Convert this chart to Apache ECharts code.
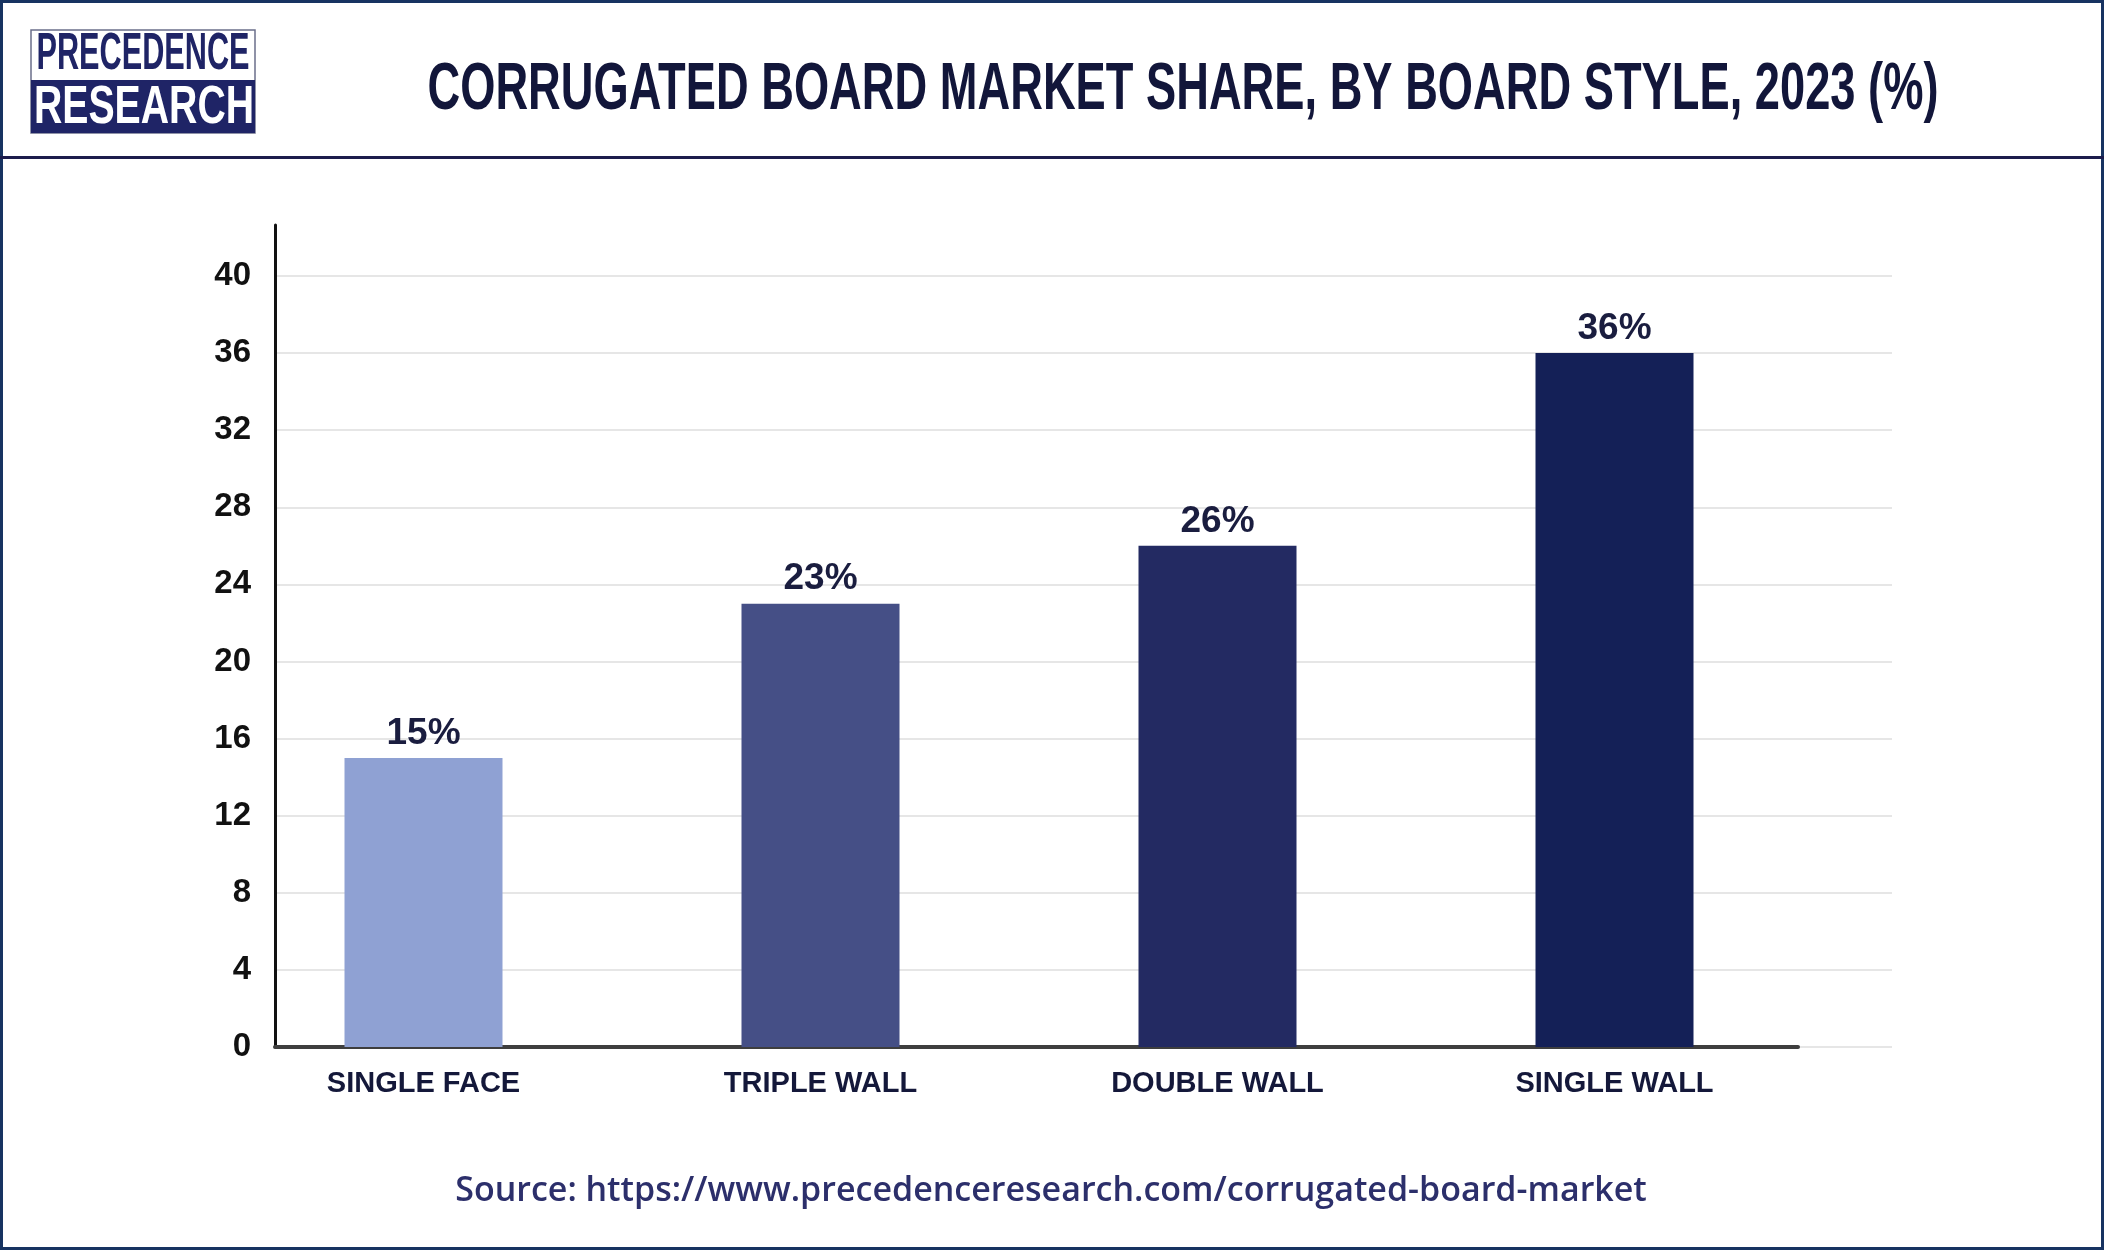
<!DOCTYPE html>
<html>
<head>
<meta charset="utf-8">
<script src="https://cdn.jsdelivr.net/npm/echarts@6/dist/echarts.min.js"></script>
<style>
html,body{margin:0;padding:0;background:#fff;}
#chart{width:2104px;height:1250px;}
</style>
</head>
<body>
<div id="chart"></div>
<script>
// ---- data ----
const categories = ['SINGLE FACE', 'TRIPLE WALL', 'DOUBLE WALL', 'SINGLE WALL'];
const shares = [15, 23, 26, 36];
const barColors = ['#8fa1d3', '#454f86', '#232a62', '#142057'];
const titleText = 'CORRUGATED BOARD MARKET SHARE, BY BOARD STYLE, 2023 (%)';
const sourceText = 'Source: https://www.precedenceresearch.com/corrugated-board-market';

const sans = '"Liberation Sans", Arial, sans-serif';
const chart = echarts.init(document.getElementById('chart'), null, {renderer: 'canvas'});

const option = {
  backgroundColor: '#ffffff',
  animation: false,
  grid: [
    {left: 275, top: 276, width: 1617, height: 771},   // gridlines + y labels
    {left: 225, top: 276, width: 1588, height: 771},   // bars
    {left: 275, top: 225, width: 1523, height: 822}    // axis lines
  ],
  xAxis: [
    {gridIndex: 0, type: 'value', show: false, min: 0, max: 1},
    {gridIndex: 1, type: 'category', data: categories,
      axisLine: {show: false}, axisTick: {show: false},
      axisLabel: {margin: 22, fontFamily: sans, fontWeight: 'bold', fontSize: 29, color: '#14183a'}},
    {gridIndex: 2, type: 'value', min: 0, max: 1,
      axisLine: {show: true, onZero: false, lineStyle: {color: '#3e3e3e', width: 4}},
      axisTick: {show: false}, axisLabel: {show: false}, splitLine: {show: false}}
  ],
  yAxis: [
    {gridIndex: 0, type: 'value', min: 0, max: 40, interval: 4,
      axisLine: {show: false}, axisTick: {show: false},
      axisLabel: {margin: 24, fontFamily: sans, fontWeight: 'bold', fontSize: 33, color: '#111111'},
      splitLine: {show: true, lineStyle: {color: '#e6e6e6', width: 2}}},
    {gridIndex: 1, type: 'value', min: 0, max: 40, show: false},
    {gridIndex: 2, type: 'value', min: 0, max: 1,
      axisLine: {show: true, onZero: false, lineStyle: {color: '#111111', width: 3}},
      axisTick: {show: false}, axisLabel: {show: false}, splitLine: {show: false}}
  ],
  series: [{
    type: 'bar',
    xAxisIndex: 1, yAxisIndex: 1,
    barWidth: 158,
    data: shares.map((v, i) => ({value: v, itemStyle: {color: barColors[i]}})),
    label: {
      show: true, position: 'top', distance: 6,
      formatter: p => p.value + '%',
      fontFamily: sans, fontWeight: 'bold', fontSize: 37, color: '#1a1d3f'
    },
    z: 5
  }],
  graphic: [
    // outer frame
    {type: 'rect', shape: {x: 1.5, y: 1.5, width: 2101, height: 1247},
      style: {fill: 'none', stroke: '#173361', lineWidth: 3}, z: 100},
    // header separator
    {type: 'rect', shape: {x: 0, y: 156, width: 2104, height: 3},
      style: {fill: '#1c1c4c'}, z: 100},
    // logo
    {type: 'rect', shape: {x: 31, y: 30, width: 224, height: 103},
      style: {fill: '#ffffff', stroke: '#6b6f8a', lineWidth: 1.5}, z: 100},
    {type: 'rect', shape: {x: 31, y: 80, width: 224, height: 53},
      style: {fill: '#1f2466'}, z: 101},
    {type: 'text', x: 143, y: 55, scaleX: 0.59,
      style: {text: 'PRECEDENCE', font: 'bold 52px ' + sans, fill: '#1f2466',
        align: 'center', verticalAlign: 'middle'}, z: 102},
    {type: 'text', x: 144, y: 108, scaleX: 0.74,
      style: {text: 'RESEARCH', font: 'bold 53px ' + sans, fill: '#ffffff',
        align: 'center', verticalAlign: 'middle'}, z: 102},
    // title
    {type: 'text', x: 1183, y: 91, scaleX: 0.686,
      style: {text: titleText, font: 'bold 66px ' + sans, fill: '#12163a',
        align: 'center', verticalAlign: 'middle'}, z: 102},
    // source
    {type: 'text', x: 1051, y: 1191,
      style: {text: sourceText, font: '600 34px "Open Sans", sans-serif', fill: '#2c2f6b',
        align: 'center', verticalAlign: 'middle'}, z: 102}
  ]
};
chart.setOption(option);
</script>
</body>
</html>
